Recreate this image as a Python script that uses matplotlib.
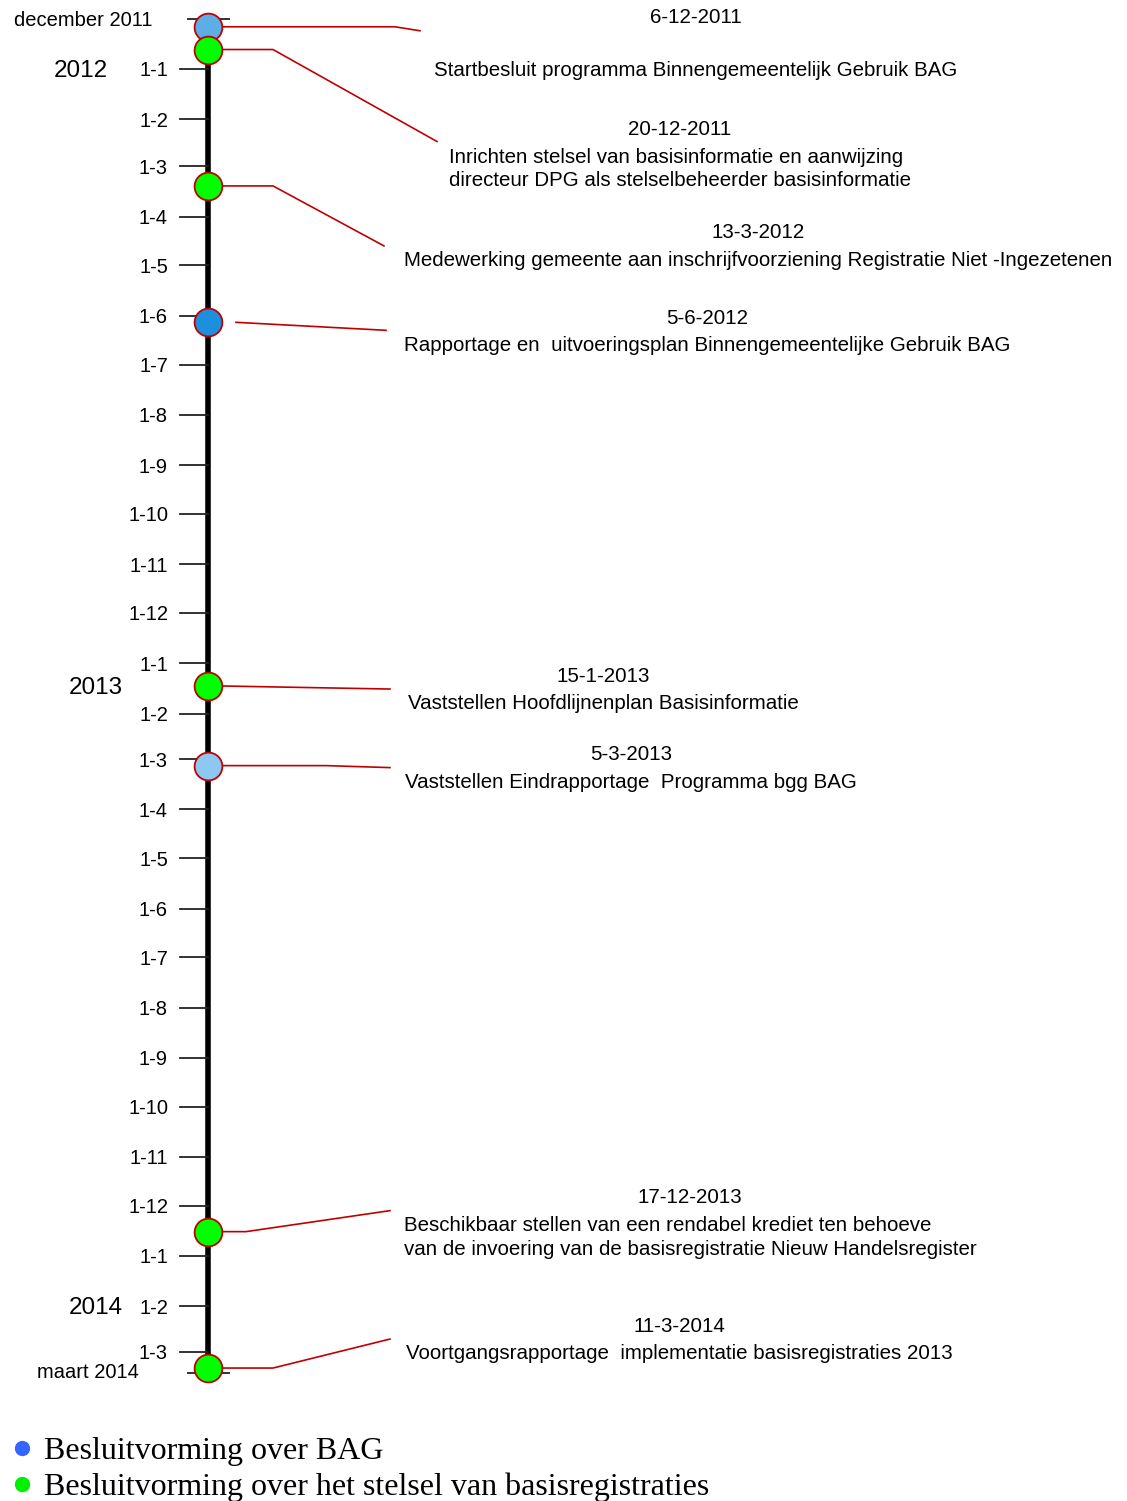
import matplotlib
matplotlib.use('Agg')
import matplotlib.pyplot as plt
import matplotlib.dates as mdates
from matplotlib.lines import Line2D
from matplotlib import font_manager
from datetime import datetime

# events on the timeline
event_dates = ['2011-12-06', '2011-12-20', '2012-03-13', '2012-06-05',
               '2013-01-15', '2013-03-05', '2013-12-17', '2014-03-11']
event_labels = ['6-12-2011', '20-12-2011', '13-3-2012', '5-6-2012',
                '15-1-2013', '5-3-2013', '17-12-2013', '11-3-2014']
event_texts = [
    'Startbesluit programma Binnengemeentelijk Gebruik BAG',
    'Inrichten stelsel van basisinformatie en aanwijzing\ndirecteur DPG als stelselbeheerder basisinformatie',
    'Medewerking gemeente aan inschrijfvoorziening Registratie Niet -Ingezetenen',
    'Rapportage en  uitvoeringsplan Binnengemeentelijke Gebruik BAG',
    'Vaststellen Hoofdlijnenplan Basisinformatie',
    'Vaststellen Eindrapportage  Programma bgg BAG',
    'Beschikbaar stellen van een rendabel krediet ten behoeve\nvan de invoering van de basisregistratie Nieuw Handelsregister',
    'Voortgangsrapportage  implementatie basisregistraties 2013',
]
event_colors = ['#5dade6', '#00ff00', '#00ff00', '#1e8fdc',
                '#00ff00', '#8dc8f2', '#00ff00', '#00ff00']

start_label = 'december 2011'
end_label = 'maart 2014'
timeline_start = '2011-12-01'
timeline_end = '2014-03-14'

year_labels = ['2012', '2013', '2014']
year_dates = ['2012-01-01', '2013-01-15', '2014-02-01']

legend_labels = ['Besluitvorming over BAG',
                 'Besluitvorming over het stelsel van basisregistraties']
legend_colors = ['#3366ff', '#00ee00']

# layout (pixels)
PX_PER_DAY = 1.6238
AXIS_X = 208
label_cx = [696, 680, 758, 707, 603, 631, 690, 679]
label_dy = [-9, 80, 47, -4, -10, -11, -34, -42]
text_gap = [52, 27, 27, 27, 27, 27, 27, 27]
line_x0 = [208, 208, 208, 236, 208, 208, 208, 208]
elbow_x = [395, 273, 273, 236, 226, 326, 246, 273]
end_x = [420, 437, 384, 386, 390, 390, 390, 390]
end_dy = [4, 92, 60, 8, 3, 2, -21, -29]
TICK_TEXT_DY = 2

names = {f.name for f in font_manager.fontManager.ttflist}
narrow = 'Liberation Sans Narrow' in names
sans = 'Liberation Sans'
body_font = 'Liberation Sans Narrow' if narrow else sans
body_size = 17.8 if narrow else 14.8


def d(s):
    return mdates.date2num(datetime.strptime(s, '%Y-%m-%d'))


fig = plt.figure(figsize=(11.27, 15.01), dpi=100)
ax = fig.add_axes([0, 0, 1, 1])
ax.axis('off')
top = d('2012-01-01') - 69 / PX_PER_DAY
ax.set_xlim(0, 1127)
ax.set_ylim(top + 1501 / PX_PER_DAY, top)
ty = TICK_TEXT_DY / PX_PER_DAY

# main axis line
ax.plot([AXIS_X, AXIS_X], [d(timeline_start), d(timeline_end)], color='black', lw=4, zorder=2,
        solid_capstyle='butt')
ax.hlines([d(timeline_start), d(timeline_end)], 187, 230, color='#222222', lw=1.3, zorder=2)
ax.text(153, d(timeline_start) + ty, start_label, ha='right', va='center', fontsize=14.5, family=sans)
ax.text(139, d(timeline_end), end_label, ha='right', va='center', fontsize=14.5, family=sans)

# month ticks
month_starts = []
cur = datetime(2012, 1, 1)
while cur <= datetime(2014, 3, 1):
    month_starts.append(cur)
    cur = datetime(cur.year + cur.month // 12, cur.month % 12 + 1, 1)
for m in month_starts:
    y = mdates.date2num(m)
    ax.plot([180, AXIS_X], [y, y], color='#222222', lw=1.3, zorder=2)
    ax.text(168, y + ty, f'1-{m.month}', ha='right', va='center', fontsize=14.5, family=sans)

for lab, ds, xr in zip(year_labels, year_dates, [108, 123, 123]):
    ax.text(xr, d(ds) + ty, lab, ha='right', va='center', fontsize=17.5, family=sans)

# events
for i, ds in enumerate(event_dates):
    y = d(ds)
    xs = [line_x0[i], elbow_x[i], end_x[i]]
    ys = [y, y, y + end_dy[i] / PX_PER_DAY]
    ax.plot(xs, ys, color='#c00000', lw=1.2, zorder=3)
    ax.plot([AXIS_X], [y], marker='o', ms=20, mfc=event_colors[i], mec='#c00000', mew=1.3, zorder=4)
    ly = y + label_dy[i] / PX_PER_DAY
    ax.text(label_cx[i], ly, event_labels[i], ha='center', va='center',
            fontsize=body_size, family=body_font)
    ax.text(label_cx[i], ly + (text_gap[i] - 9) / PX_PER_DAY, event_texts[i], ha='center', va='top',
            multialignment='left', fontsize=body_size, family=body_font, linespacing=1.33)

handles = [Line2D([], [], ls='', marker='o', ms=10, color=c) for c in legend_colors]
fig.legend(handles, legend_labels, loc='upper left', bbox_to_anchor=(-13 / 1127, 1 - 1411 / 1501),
           frameon=False, handlelength=0.6, handletextpad=0.4, labelspacing=0.2, borderpad=0.3,
           prop={'family': 'Liberation Serif', 'size': 23})

fig.savefig('out.png', dpi=100)
